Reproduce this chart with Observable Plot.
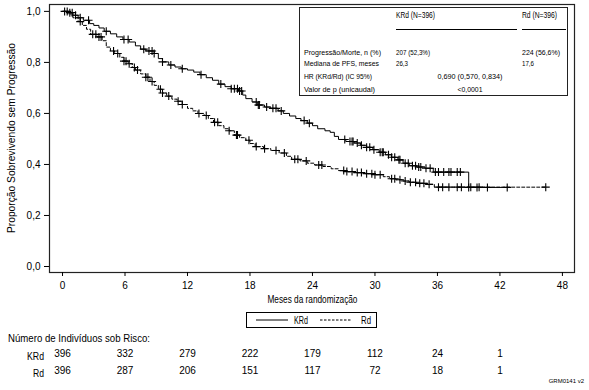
<!DOCTYPE html>
<html>
<head>
<meta charset="utf-8">
<script src="https://cdn.jsdelivr.net/npm/d3@7"></script>
<script src="https://cdn.jsdelivr.net/npm/@observablehq/plot@0.6"></script>
<style>
  html, body { margin: 0; padding: 0; background: #fff; }
  #chart svg { display: block; }
</style>
</head>
<body>
<div id="chart"></div>
<script>
// ---- data ----
const xTicks = [0, 6, 12, 18, 24, 30, 36, 42, 48];
const yTicks = [0, 0.2, 0.4, 0.6, 0.8, 1.0];

// Kaplan-Meier step points (month, survival)
const krdT = [0,0.6,1.0,1.5,2.0,2.6,3.0,3.5,4.0,4.6,5.2,5.8,6.4,7.0,7.5,8.0,8.8,9.2,9.6,10.2,10.8,11.4,12.0,12.6,13.2,13.8,14.4,15.0,15.6,16.2,16.9,17.3,17.6,18.2,18.7,19.4,20.0,20.7,21.2,21.8,22.4,22.9,23.5,24.0,24.5,25.2,25.7,26.1,26.5,27.2,28.0,28.6,29.2,29.8,30.4,31.0,31.6,32.2,32.7,33.3,34.0,34.8,35.6,39.0,42.7];
const krdS = [1.0,0.995,0.985,0.975,0.965,0.952,0.945,0.935,0.922,0.912,0.9,0.89,0.88,0.865,0.852,0.845,0.835,0.815,0.802,0.79,0.782,0.775,0.77,0.762,0.752,0.74,0.73,0.715,0.705,0.697,0.688,0.672,0.658,0.645,0.633,0.625,0.62,0.61,0.6,0.59,0.58,0.572,0.562,0.552,0.54,0.532,0.526,0.51,0.498,0.49,0.484,0.475,0.467,0.458,0.448,0.438,0.428,0.418,0.405,0.395,0.39,0.385,0.37,0.31,0.31];

const rdT = [0,0.5,1.0,1.5,1.9,2.3,2.7,3.3,3.8,4.2,4.6,5.0,5.5,5.9,6.3,6.7,7.0,7.5,8.0,8.4,8.8,9.2,9.6,10.0,10.5,11.0,11.5,12.0,12.5,13.0,13.6,14.0,14.5,15.0,15.5,16.0,16.5,17.0,17.6,18.0,18.5,19.3,20.0,20.8,21.5,22.0,22.8,23.5,24.2,25.0,25.8,26.5,27.2,28.0,29.0,30.0,30.8,31.4,32.0,32.7,33.3,34.0,35.0,35.7,46.4];
const rdS = [1.0,0.99,0.975,0.96,0.945,0.93,0.91,0.9,0.885,0.86,0.845,0.835,0.82,0.805,0.795,0.78,0.77,0.755,0.742,0.725,0.71,0.695,0.68,0.668,0.656,0.648,0.635,0.62,0.61,0.6,0.592,0.58,0.565,0.552,0.54,0.532,0.515,0.505,0.495,0.482,0.47,0.462,0.455,0.445,0.432,0.42,0.414,0.405,0.398,0.392,0.383,0.376,0.372,0.368,0.364,0.36,0.352,0.344,0.34,0.335,0.33,0.326,0.322,0.311,0.311];

// censoring times (months)
const krdCens = [0.2,0.45,0.7,0.93,1.25,1.7,2.5,4.2,5.9,6.3,7.8,8.3,8.6,8.8,9.6,10.4,11.5,13.3,15.2,16.2,16.5,16.8,17.0,17.2,18.6,18.8,18.9,19.6,20.2,20.5,21.0,23.2,23.7,27.1,27.6,27.8,27.9,28.3,28.7,29.2,29.5,29.9,30.5,30.7,30.8,31.3,31.6,31.9,32.3,32.4,32.9,33.2,33.6,33.9,34.2,34.4,34.9,35.3,35.8,36.1,36.6,37.1,37.3,37.9,38.2,39.0,39.8,40.8,42.7];
const rdCens = [1.7,2.9,3.2,3.5,3.7,4.9,5.3,5.9,6.1,6.4,6.9,7.2,8.0,8.2,8.6,9.4,9.6,10.2,11.1,11.5,13.1,13.8,14.6,14.9,16.0,16.7,16.8,17.9,18.6,19.4,20.5,21.3,22.3,22.6,23.4,24.6,24.9,27.0,27.3,27.8,28.3,28.7,29.2,29.7,30.0,30.5,31.6,31.9,32.4,32.9,33.4,33.9,34.3,34.7,35.2,36.1,36.5,37.1,37.9,38.3,39.2,40.0,46.4];

// numbers at risk
const riskTimes = [0, 6, 12, 18, 24, 30, 36, 42];
const krdRisk = [396, 332, 279, 222, 179, 112, 24, 1];
const rdRisk  = [396, 287, 206, 151, 117, 72, 18, 1];

const groups = ["KRd", "Rd"];
const statRows = ["Progressão/Morte, n (%)", "Mediana de PFS, meses", "HR (KRd/Rd) (IC 95%)", "Valor de p (unicaudal)"];
const krdStats = ["207 (52,3%)", "26,3"];
const rdStats = ["224 (56,6%)", "17,6"];
const sharedStats = ["0,690 (0,570, 0,834)", "<0,0001"];

// ---- build tables ----
const toSteps = (T, S) => T.map((t, i) => ({t, s: S[i]}));
const krdSteps = toSteps(krdT, krdS);
const rdSteps = toSteps(rdT, rdS);
const survAt = (T, S, t) => { let v = S[0]; for (let i = 0; i < T.length; i++) if (T[i] <= t) v = S[i]; return v; };
const krdMarks = krdCens.map(t => ({t, s: survAt(krdT, krdS, t)}));
const rdMarks = rdCens.map(t => ({t, s: survAt(rdT, rdS, t)}));
const riskKRd = riskTimes.map((t, i) => ({t, n: krdRisk[i]}));
const riskRd = riskTimes.map((t, i) => ({t, n: rdRisk[i]}));

const FONT = '"Liberation Sans", Arial, Helvetica, sans-serif';
const fmt = d => d.toFixed(1).replace(".", ",");

const plot = Plot.plot({
  width: 589,
  height: 390,
  marginLeft: 49,
  marginRight: 15,
  marginTop: 4,
  marginBottom: 118,
  style: {fontFamily: FONT, fontSize: "10px", color: "#000", background: "#fff"},
  x: {domain: [-1.25, 49.16]},
  y: {domain: [-0.0235, 1.027]},
  marks: [
    Plot.frame({stroke: "#222", strokeWidth: 1.2}),
    Plot.axisX({ticks: xTicks, tickSize: 4, tickPadding: 5, label: null, fontSize: 10}),
    Plot.axisY({ticks: yTicks, tickSize: 5, tickPadding: 4, tickFormat: fmt, label: null, fontSize: 10}),
    Plot.line(rdSteps, {x: "t", y: "s", curve: "step-after", stroke: "#000", strokeWidth: 1, strokeDasharray: "3,2"}),
    Plot.line(krdSteps, {x: "t", y: "s", curve: "step-after", stroke: "#000", strokeWidth: 1}),
    Plot.dot(rdMarks, {x: "t", y: "s", symbol: "plus", r: 2.7, stroke: "#000", strokeWidth: 1.1}),
    Plot.dot(krdMarks, {x: "t", y: "s", symbol: "plus", r: 2.7, stroke: "#000", strokeWidth: 1.1}),
    Plot.text(["Meses da randomização"], {x: 24, frameAnchor: "bottom", dy: 30, text: d => d, fontSize: 11.5, className: "narrow-meses"}),
    Plot.text(riskKRd, {x: "t", frameAnchor: "bottom", dy: 84, text: d => String(d.n), fontSize: 10}),
    Plot.text(riskRd, {x: "t", frameAnchor: "bottom", dy: 101, text: d => String(d.n), fontSize: 10})
  ]
});
document.getElementById("chart").appendChild(plot);

// ---- annotations (y title, stats box, legend, risk labels) ----
const svg = d3.select(plot.tagName === "svg" ? plot : plot.querySelector("svg"));
const g = svg.append("g").attr("font-family", FONT).attr("fill", "#000").attr("text-anchor", "start");

// squeeze a text to a target width (emulates the condensed face of the original)
function fit(sel, w) {
  sel.attr("textLength", w).attr("lengthAdjust", "spacingAndGlyphs");
  return sel;
}
function txt(x, y, s, size, anchor, w) {
  const t = g.append("text").attr("x", x).attr("y", y).attr("font-size", size)
    .attr("text-anchor", anchor || "start").text(s);
  if (w) fit(t, w);
  return t;
}

// y title
const yt = g.append("text")
  .attr("transform", "translate(15,138) rotate(-90)")
  .attr("text-anchor", "middle")
  .attr("font-size", 11).text("Proporção Sobrevivendo sem Progressão");
fit(yt, 190);

// x title squeeze
fit(svg.selectAll(".narrow-meses text"), 90);

// stats box
g.append("rect").attr("x", 299.5).attr("y", 7.5).attr("width", 268).attr("height", 88)
  .attr("fill", "#fff").attr("stroke", "#222").attr("stroke-width", 1);
txt(396, 17.5, "KRd (N=396)", 8.5, "start", 39);
txt(522, 17.5, "Rd (N=396)", 8.5, "start", 35);
g.append("line").attr("x1", 396).attr("x2", 517).attr("y1", 29.5).attr("y2", 29.5).attr("stroke", "#000");
g.append("line").attr("x1", 522).attr("x2", 566).attr("y1", 29.5).attr("y2", 29.5).attr("stroke", "#000");
const rowY = [54.5, 65.5, 79, 91.5];
const rowW = [77, 75, 68, 71];
statRows.forEach((r, i) => txt(304, rowY[i], r, 8, "start", rowW[i]));
const krdW = [34, 12];
const rdW = [38, 12];
krdStats.forEach((v, i) => txt(396, rowY[i], v, 8, "start", krdW[i]));
rdStats.forEach((v, i) => txt(522, rowY[i], v, 8, "start", rdW[i]));
const shW = [65, 25];
sharedStats.forEach((v, i) => txt(470, rowY[i + 2], v, 8, "middle", shW[i]));

// legend
g.append("rect").attr("x", 246.5).attr("y", 312.5).attr("width", 130).attr("height", 15)
  .attr("fill", "#fff").attr("stroke", "#000").attr("stroke-width", 1);
g.append("line").attr("x1", 256).attr("x2", 288).attr("y1", 320).attr("y2", 320).attr("stroke", "#000");
txt(294, 324, groups[0], 10.5, "start", 14);
g.append("line").attr("x1", 320).attr("x2", 352).attr("y1", 320).attr("y2", 320).attr("stroke", "#000").attr("stroke-dasharray", "2.5,1.5");
txt(361, 324, groups[1], 10.5, "start", 10);

// risk table labels
txt(8, 342, "Número de Indivíduos sob Risco:", 11, "start", 142);
txt(44, 359.5, groups[0], 10.5, "end", 17);
txt(44, 376.5, groups[1], 10.5, "end", 11);
txt(584, 383, "GRM0141 v2", 6, "end");
</script>
</body>
</html>
